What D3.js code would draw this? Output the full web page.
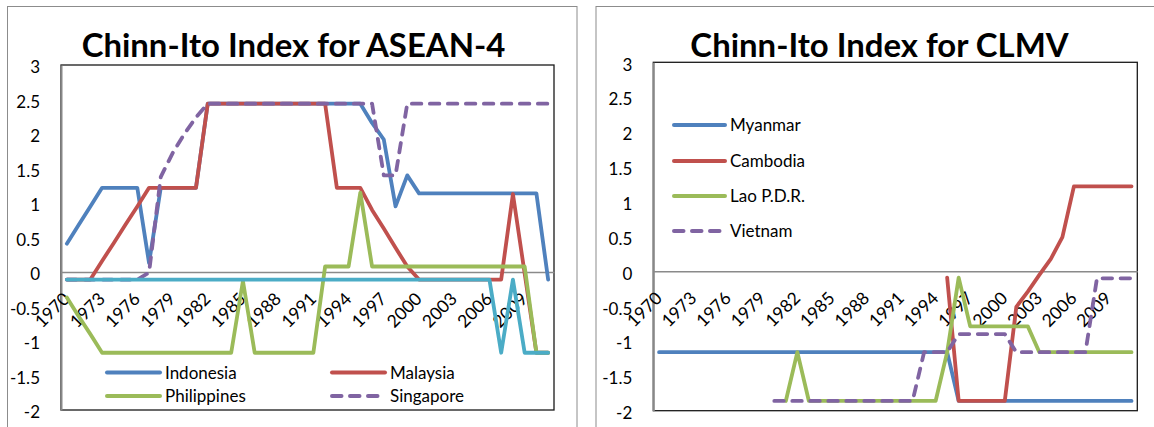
<!DOCTYPE html>
<html><head><meta charset="utf-8">
<script src="https://cdn.jsdelivr.net/npm/d3@7"></script>
<style>
html,body{margin:0;padding:0;background:#fff;}
svg{display:block;}
text{font-family:Lato,"Open Sans",sans-serif;fill:#000;}
</style></head>
<body>
<svg id="chart" width="1154" height="427"></svg>
<script>
// ---------- categories / ticks ----------
const years = [1970,1971,1972,1973,1974,1975,1976,1977,1978,1979,1980,1981,1982,1983,1984,1985,1986,1987,1988,1989,1990,1991,1992,1993,1994,1995,1996,1997,1998,1999,2000,2001,2002,2003,2004,2005,2006,2007,2008,2009,2010,2011];
const xTickYears = [1970,1973,1976,1979,1982,1985,1988,1991,1994,1997,2000,2003,2006,2009];
const yTicks = [3,2.5,2,1.5,1,0.5,0,-0.5,-1,-1.5,-2];

// ---------- ASEAN-4 series (1970-2011) ----------
const indonesia = [0.41,0.68,0.95,1.22,1.22,1.22,1.22,0.13,1.22,1.22,1.22,1.22,
  2.44,2.44,2.44,2.44,2.44,2.44,2.44,2.44,2.44,2.44,2.44,2.44,2.44,2.44,
  2.16,1.92,0.95,1.40,
  1.14,1.14,1.14,1.14,1.14,1.14,1.14,1.14,1.14,1.14,1.14,
  -0.11];
const malaysia = [-0.11,-0.11,-0.11,0.16,0.42,0.69,0.95,1.22,1.22,1.22,1.22,1.22,
  2.44,2.44,2.44,2.44,2.44,2.44,2.44,2.44,2.44,2.44,2.44,
  1.22,1.22,1.22,0.90,0.63,0.35,0.08,
  -0.11,-0.11,-0.11,-0.11,-0.11,-0.11,-0.11,-0.11,
  1.13,-0.02,-1.17,-1.17];
const philippines = [-0.37,-0.64,-0.90,
  -1.17,-1.17,-1.17,-1.17,-1.17,-1.17,-1.17,-1.17,-1.17,-1.17,-1.17,-1.17,
  -0.13,
  -1.17,-1.17,-1.17,-1.17,-1.17,-1.17,
  0.08,0.08,0.08,1.15,
  0.08,0.08,0.08,0.08,0.08,0.08,0.08,0.08,0.08,0.08,0.08,0.08,0.08,0.08,
  -1.17,-1.17];
const singapore = [-0.11,-0.11,-0.11,-0.11,-0.11,-0.11,-0.11,-0.01,1.38,1.72,2.00,2.24,
  2.44,2.44,2.44,2.44,2.44,2.44,2.44,2.44,2.44,2.44,2.44,2.44,2.44,2.44,2.44,
  1.40,1.40,
  2.44,2.44,2.44,2.44,2.44,2.44,2.44,2.44,2.44,2.44,2.44,2.44,2.44];
const thailand = [-0.11,-0.11,-0.11,-0.11,-0.11,-0.11,-0.11,-0.11,-0.11,-0.11,
  -0.11,-0.11,-0.11,-0.11,-0.11,-0.11,-0.11,-0.11,-0.11,-0.11,
  -0.11,-0.11,-0.11,-0.11,-0.11,-0.11,-0.11,-0.11,-0.11,-0.11,
  -0.11,-0.11,-0.11,-0.11,-0.11,-0.11,-0.11,
  -1.17,-0.11,-1.17,-1.17,-1.17];

// ---------- CLMV series (1970-2011) ----------
const myanmar = [-1.16,-1.16,-1.16,-1.16,-1.16,-1.16,-1.16,-1.16,-1.16,-1.16,
  -1.16,-1.16,-1.16,-1.16,-1.16,-1.16,-1.16,-1.16,-1.16,-1.16,
  -1.16,-1.16,-1.16,-1.16,-1.16,-1.16,
  -1.86,-1.86,-1.86,-1.86,-1.86,-1.86,-1.86,-1.86,-1.86,-1.86,-1.86,-1.86,-1.86,-1.86,-1.86,-1.86];
const cambodia = [null,null,null,null,null,null,null,null,null,null,
  null,null,null,null,null,null,null,null,null,null,
  null,null,null,null,null,
  -0.09,-1.86,-1.86,-1.86,-1.86,-1.86,
  -0.51,-0.29,-0.05,0.18,0.49,
  1.22,1.22,1.22,1.22,1.22,1.22];
const lao = [null,null,null,null,null,null,null,null,null,null,null,
  -1.86,-1.16,
  -1.86,-1.86,-1.86,-1.86,-1.86,-1.86,-1.86,-1.86,-1.86,-1.86,-1.86,-1.86,
  -1.16,-0.09,
  -0.79,-0.79,-0.79,-0.79,-0.79,-0.79,
  -1.16,-1.16,-1.16,-1.16,-1.16,-1.16,-1.16,-1.16,-1.16];
const vietnam = [null,null,null,null,null,null,null,null,null,null,
  -1.86,-1.86,-1.86,-1.86,-1.86,-1.86,-1.86,-1.86,-1.86,-1.86,-1.86,-1.86,-1.86,
  -1.16,-1.16,-1.16,
  -0.90,-0.90,-0.90,-0.90,-0.90,
  -1.16,-1.16,-1.16,-1.16,-1.16,-1.16,-1.16,
  -0.10,-0.10,-0.10,-0.10];

const COLORS = {blue:"#4F81BD", red:"#C0504D", green:"#9BBB59", purple:"#8064A2", cyan:"#4BACC6"};

const svg = d3.select("#chart");

function panel(cfg){
  const g = svg.append("g");
  // outer chart frame
  g.append("rect").attr("x",cfg.frame[0]).attr("y",cfg.frame[1])
    .attr("width",cfg.frame[2]).attr("height",cfg.frame[3])
    .attr("fill","#fff").attr("stroke","#8c8c8c").attr("stroke-width",1);

  const x = d3.scaleBand().domain(years).range([cfg.left,cfg.right]).paddingInner(0).paddingOuter(0);
  const y = d3.scaleLinear().domain([-2,3]).range([cfg.bottom,cfg.top]);
  const cx = d => x(d) + x.bandwidth()/2;

  // plot area border
  g.append("rect").attr("x",cfg.left).attr("y",cfg.top)
    .attr("width",cfg.right-cfg.left).attr("height",cfg.bottom-cfg.top)
    .attr("fill","none").attr("stroke","#1a1a1a").attr("stroke-width",1.3);

  // y axis
  const ya = g.append("g").attr("transform",`translate(${cfg.left},0)`)
    .call(d3.axisLeft(y).tickValues(yTicks).tickSize(0).tickSizeOuter(0).tickPadding(21).tickFormat(d=>String(d)));
  ya.select(".domain").attr("stroke","#888").attr("stroke-width",2);
  ya.selectAll("text").attr("font-size","17px").attr("font-family","Lato").attr("fill","#000").attr("dy","0.46em");

  // x axis at zero
  const xa = g.append("g").attr("transform",`translate(0,${y(0)})`)
    .call(d3.axisBottom(x).tickValues(xTickYears).tickSize(0).tickSizeOuter(0));
  xa.select(".domain").attr("stroke","#8a8a8a").attr("stroke-width",1.5);
  xa.selectAll("text").attr("y",0).attr("dy",0)
    .attr("text-anchor","end").attr("transform","translate(4,28) rotate(-45)")
    .attr("font-size","17.5px").attr("font-family","Lato").attr("fill","#000");

  // series
  const line = d3.line().defined(d=>d.v!=null).x(d=>cx(d.yr)).y(d=>y(d.v));
  cfg.series.forEach(s=>{
    const pts = years.map((yr,i)=>({yr, v:s.values[i]}));
    g.append("path").attr("d",line(pts)).attr("fill","none")
      .attr("stroke",s.color).attr("stroke-width",3.8)
      .attr("stroke-linejoin","round").attr("stroke-linecap","round")
      .attr("stroke-dasharray",s.dash?"9.5,8.5":null);
  });

  // legend
  cfg.legend.forEach(L=>{
    const s = cfg.series.find(d=>d.name===L.name);
    g.append("line").attr("x1",L.x).attr("x2",L.x+L.len).attr("y1",L.y).attr("y2",L.y)
      .attr("stroke",s.color).attr("stroke-width",4).attr("stroke-linecap","round")
      .attr("stroke-dasharray",s.dash?"9.5,8.5":null);
    g.append("text").attr("x",L.x+L.len+5).attr("y",L.y).attr("dy","0.36em")
      .attr("font-size","17px").text(L.name);
  });

  // title
  g.append("text").attr("class","title").attr("x",cfg.titleX).attr("y",57)
    .attr("text-anchor","middle").attr("font-weight","bold")
    .attr("font-size","32px").text(cfg.title);
}

panel({
  frame:[7.5,6.5,569.5,440], left:61, right:554, top:65, bottom:410,
  title:"Chinn-Ito Index for ASEAN-4", titleX:293.5,
  series:[
    {name:"Indonesia", values:indonesia, color:COLORS.blue},
    {name:"Malaysia", values:malaysia, color:COLORS.red},
    {name:"Philippines", values:philippines, color:COLORS.green},
    {name:"Singapore", values:singapore, color:COLORS.purple, dash:true},
    {name:"Thailand", values:thailand, color:COLORS.cyan}
  ],
  legend:[
    {name:"Indonesia", x:107, y:372.5, len:53},
    {name:"Malaysia", x:332, y:372.5, len:53},
    {name:"Philippines", x:107, y:396, len:53},
    {name:"Singapore", x:332, y:396, len:53}
  ]
});

panel({
  frame:[596,6.5,570,440], left:653.3, right:1137.3, top:62.3, bottom:410.7,
  title:"Chinn-Ito Index for CLMV", titleX:879.5,
  series:[
    {name:"Myanmar", values:myanmar, color:COLORS.blue},
    {name:"Cambodia", values:cambodia, color:COLORS.red},
    {name:"Lao P.D.R.", values:lao, color:COLORS.green},
    {name:"Vietnam", values:vietnam, color:COLORS.purple, dash:true}
  ],
  legend:[
    {name:"Myanmar", x:674, y:125, len:51},
    {name:"Cambodia", x:674, y:161, len:51},
    {name:"Lao P.D.R.", x:674, y:196, len:51},
    {name:"Vietnam", x:674, y:231, len:51}
  ]
});

// fit title size to the reference width of the ASEAN-4 title (~424px)
const titles = svg.selectAll("text.title");
const w0 = titles.nodes()[0].getComputedTextLength();
const fs = 32 * 424 / w0;
titles.attr("font-size", fs.toFixed(2)+"px");
</script>
</body></html>
